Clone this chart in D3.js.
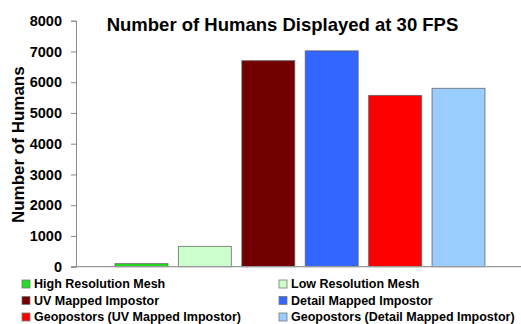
<!DOCTYPE html>
<html>
<head>
<meta charset="utf-8">
<script src="https://cdn.jsdelivr.net/npm/d3@7"></script>
<style>
  html, body { margin: 0; padding: 0; background: #fff; }
  svg { display: block; font-family: "Liberation Sans", Arial, sans-serif; }
</style>
</head>
<body>
<svg id="chart" width="521" height="324"></svg>
<script>
// Rendering methods and how many humans each can display at 30 FPS
const methods = [
  "High Resolution Mesh",
  "Low Resolution Mesh",
  "UV Mapped Impostor",
  "Detail Mapped Impostor",
  "Geopostors (UV Mapped Impostor)",
  "Geopostors (Detail Mapped Impostor)"
];
const humans = [100, 660, 6700, 7020, 5570, 5800];
const colors = ["#22dd22", "#ccffcc", "#720000", "#3366ff", "#ff0000", "#99ccff"];
const yTicks = [0, 1000, 2000, 3000, 4000, 5000, 6000, 7000, 8000];

const svg = d3.select("#chart");
const plot = { left: 76, right: 521, top: 20.7, bottom: 266.7 };

const y = d3.scaleLinear().domain([0, 8000]).range([plot.bottom, plot.top]);

// One category holding six series; bars sit inside the band with outer gaps
const x = d3.scaleBand()
  .domain(methods)
  .range([plot.left + 39, plot.right - 36])
  .paddingInner(0.165)
  .paddingOuter(0);

// Bars
svg.append("g")
  .selectAll("rect")
  .data(methods)
  .join("rect")
  .attr("x", d => x(d))
  .attr("width", x.bandwidth())
  .attr("y", (d, i) => y(humans[i]))
  .attr("height", (d, i) => y(0) - y(humans[i]))
  .attr("fill", (d, i) => colors[i])
  .attr("stroke", "#555")
  .attr("stroke-opacity", 0.7)
  .attr("stroke-width", 1);

// Y axis
const yAxis = d3.axisLeft(y)
  .tickValues(yTicks)
  .tickSize(5)
  .tickPadding(9)
  .tickFormat(d3.format("d"));

const gy = svg.append("g")
  .attr("transform", `translate(${plot.left},0)`)
  .call(yAxis);
gy.select(".domain").attr("stroke", "#888");
gy.selectAll(".tick line").attr("stroke", "#888");
gy.selectAll(".tick text")
  .attr("fill", "#000")
  .attr("font-size", 14.5)
  .attr("font-weight", "bold")
  .attr("font-family", "Liberation Sans, Arial, sans-serif");

// Baseline
svg.append("line")
  .attr("x1", plot.left - 5)
  .attr("x2", plot.right)
  .attr("y1", y(0))
  .attr("y2", y(0))
  .attr("stroke", "#999")
  .attr("stroke-width", 1.2);

// Title
svg.append("text")
  .attr("x", 282.5)
  .attr("y", 31)
  .attr("text-anchor", "middle")
  .attr("font-size", 18.5)
  .attr("font-weight", "bold")
  .text("Number of Humans Displayed at 30 FPS");

// Y axis title
svg.append("text")
  .attr("transform", `translate(24,${(plot.top + plot.bottom) / 2 + 1}) rotate(-90)`)
  .attr("text-anchor", "middle")
  .attr("font-size", 17)
  .attr("font-weight", "bold")
  .text("Number of Humans");

// Legend, two columns
const legend = svg.append("g");
const items = legend.selectAll("g")
  .data(methods)
  .join("g")
  .attr("transform", (d, i) => `translate(${i % 2 === 0 ? 22 : 279},${284 + Math.floor(i / 2) * 16.5})`);

items.append("rect")
  .attr("x", 0)
  .attr("y", -4)
  .attr("width", 8)
  .attr("height", 8)
  .attr("fill", (d, i) => colors[i])
  .attr("stroke", "#777")
  .attr("stroke-width", 0.8);

items.append("text")
  .attr("x", 12)
  .attr("y", 4.3)
  .attr("font-size", 12.5)
  .attr("font-weight", "bold")
  .text(d => d);
</script>
</body>
</html>
